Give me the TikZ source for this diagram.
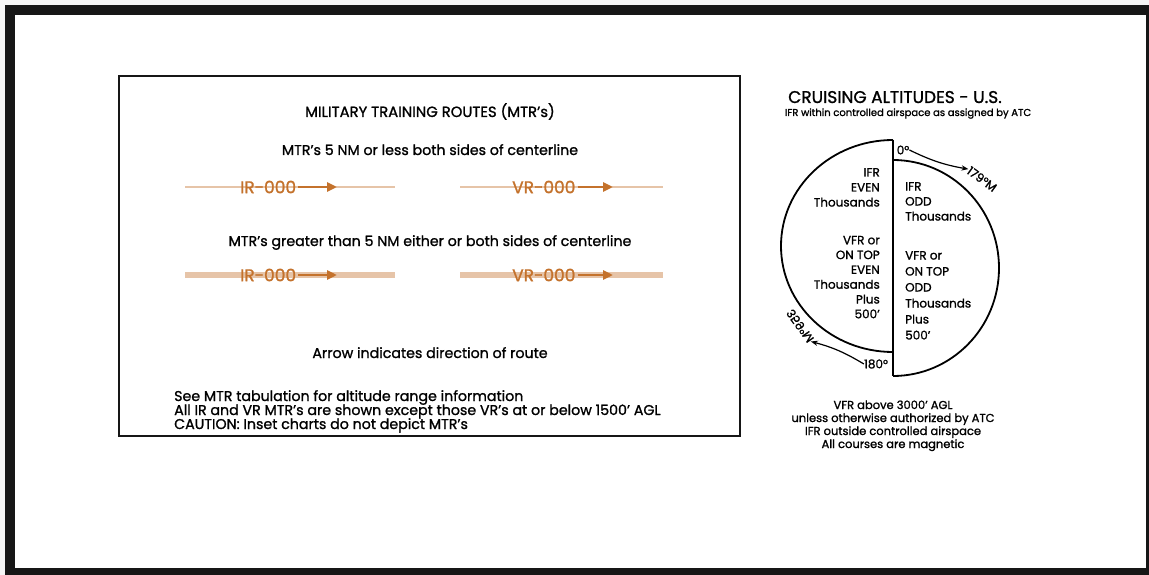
\documentclass[tikz,border=0pt]{standalone}
\usepackage{fontspec}
\setmainfont{Poppins}[FakeBold=1.2]
\usetikzlibrary{positioning,arrows.meta}

\definecolor{rtline}{RGB}{230,196,168}
\definecolor{rtlabel}{RGB}{196,114,44}
\definecolor{frameblk}{RGB}{22,22,22}

\tikzset{
  txt/.style={inner sep=0pt,anchor=base},
  big/.style={txt,font=\fontsize{14.8}{16}\selectfont},
  mid/.style={txt,font=\fontsize{14.2}{16}\selectfont},
  ring/.style={txt,font=\fontsize{12}{14}\selectfont},
  sml/.style={txt,font=\fontsize{11.5}{13}\selectfont},
  tiny/.style={txt,font=\fontsize{10}{12}\selectfont},
  rtname/.style={inner sep=0pt,anchor=west,text=rtlabel,font=\fontsize{17}{19}\selectfont},
  rtarrow/.style={rtlabel,line width=2.6pt,shorten <=2pt,-{Triangle[length=10pt,width=9pt]}},
  halfring/.style={line width=1.8pt},
}

\begin{document}
\begin{tikzpicture}[x=1pt,y=-1pt]
  \fill[gray!8] (0,0) rectangle (1149,575);
  \fill[frameblk] (5,5) rectangle (1149,575);
  \fill[white] (15,15) rectangle (1146,568);

  % training routes box
  \draw[line width=2.6pt,frameblk] (119,76) rectangle (740,436);
  \node[big] (mtrtitle) at (430,117) {MILITARY TRAINING ROUTES (MTR's)};
  \node[mid] (narrow) at (430,155) {MTR's 5 NM or less both sides of centerline};
  \node[mid] (wide) at (430,246) {MTR's greater than 5 NM either or both sides of centerline};
  \foreach \y/\w/\r in {187/1.8/a,275/5.5/b}{
    \coordinate (irw\r) at (185,\y);
    \coordinate (ire\r) at (395,\y);
    \coordinate (vrw\r) at (460,\y);
    \coordinate (vre\r) at (663,\y);
    \draw[rtline,line width=\w pt] (irw\r) -- (ire\r);
    \draw[rtline,line width=\w pt] (vrw\r) -- (vre\r);
    \node[rtname] (ir\r) at (240,\y) {IR-000};
    \node[rtname] (vr\r) at (512,\y) {VR-000};
    \coordinate (irtip\r) at (337,\y);
    \coordinate (vrtip\r) at (613,\y);
    \draw[rtarrow] (ir\r) -- (irtip\r);
    \draw[rtarrow] (vr\r) -- (vrtip\r);
  }
  \node[mid] (direction) at (430,358) {Arrow indicates direction of route};
  \node[mid,anchor=base west] (note1) at (174,401) {See MTR tabulation for altitude range information};
  \node[mid,anchor=base west] (note2) at (174,415) {All IR and VR MTR's are shown except those VR's at or below 1500' AGL};
  \node[mid,anchor=base west] (note3) at (174,429) {CAUTION: Inset charts do not depict MTR's};

  % cruising altitudes
  \node[txt,font=\fontsize{17}{19}\selectfont] (crtitle) at (895,103) {CRUISING ALTITUDES - U.S.};
  \node[tiny] (ifrnote) at (908,116) {IFR within controlled airspace as assigned by ATC};

  \draw[halfring] (893,140) arc[start angle=-90,end angle=-270,x radius=112,y radius=106];
  \draw[halfring] (893,160) arc[start angle=-90,end angle=90,x radius=106,y radius=108];
  \draw[halfring] (893,140) -- (893,376);

  \foreach \t [count=\i] in {IFR,EVEN,Thousands}
    \node[ring,anchor=base east] (le\i) at (880,{161.5+15*\i}) {\t};
  \foreach \t [count=\i] in {VFR or,ON TOP,EVEN,Thousands,Plus,500'}
    \node[ring,anchor=base east] (lv\i) at (880,{229.5+14.8*\i}) {\t};
  \foreach \t [count=\i] in {IFR,ODD,Thousands}
    \node[ring,anchor=base west] (ro\i) at (905,{175.5+15*\i}) {\t};
  \foreach \t [count=\i] in {VFR or,ON TOP,ODD,Thousands,Plus,500'}
    \node[ring,anchor=base west] (rv\i) at (905,{243.5+16*\i}) {\t};

  \node[ring,anchor=center] (zero) at (903,150) {0°};
  \node[ring,anchor=center,rotate=-36] (east) at (982,179) {179°M};
  \draw[line width=1.2pt,-{Stealth[length=7pt]}] (zero.east) to[bend right=8] (east.west);
  \node[ring,anchor=center] (south) at (876,364) {180°};
  \node[ring,anchor=center,rotate=-55,yscale=-1] (west) at (800,326) {359°M};
  \draw[line width=1.2pt,-{Stealth[length=7pt]}] (south.west) to[bend right=8] (west.east);

  \node[sml] (vfr1) at (893,409) {VFR above 3000' AGL};
  \node[sml] (vfr2) at (893,422) {unless otherwise authorized by ATC};
  \node[sml] (vfr3) at (893,435) {IFR outside controlled airspace};
  \node[sml] (vfr4) at (893,448) {All courses are magnetic};
\end{tikzpicture}
\end{document}
